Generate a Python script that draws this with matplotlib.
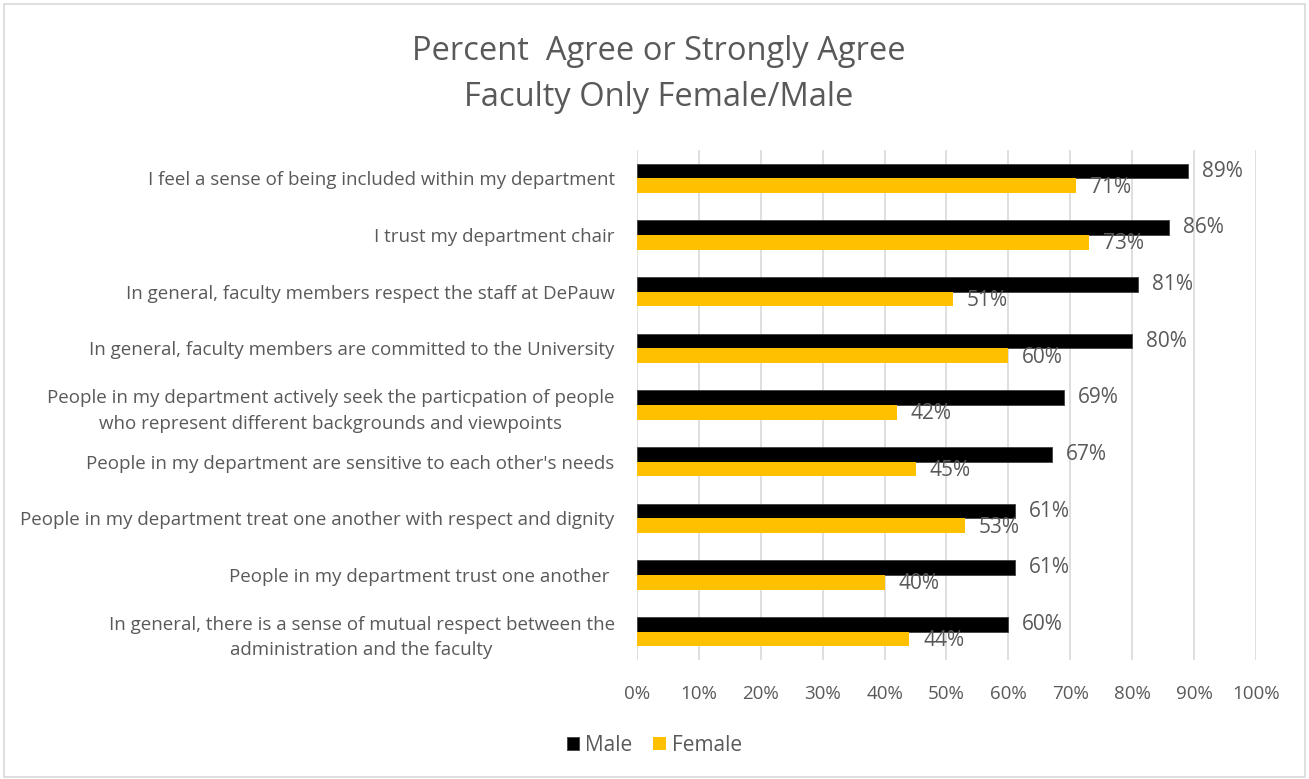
import numpy as np
import matplotlib
matplotlib.use("Agg")
import matplotlib.pyplot as plt
from matplotlib.patches import Rectangle

plt.rcParams["font.family"] = ["Open Sans", "DejaVu Sans"]

# categories listed top to bottom as in the chart
categories = [
    "I feel a sense of being included within my department",
    "I trust my department chair",
    "In general, faculty members respect the staff at DePauw",
    "In general, faculty members are committed to the University",
    "People in my department actively seek the particpation of people\nwho represent different backgrounds and viewpoints",
    "People in my department are sensitive to each other's needs",
    "People in my department treat one another with respect and dignity",
    "People in my department trust one another ",
    "In general, there is a sense of mutual respect between the\nadministration and the faculty",
]
male = [89, 86, 81, 80, 69, 67, 61, 61, 60]
female = [71, 73, 51, 60, 42, 45, 53, 40, 44]
xticks = [0, 10, 20, 30, 40, 50, 60, 70, 80, 90, 100]

TEXT = "#595959"
GRID = "#d9d9d9"
BLACK = "#000000"
GOLD = "#FFC000"

fig = plt.figure(figsize=(13.09, 7.79), dpi=100)
ax = fig.add_axes([0.4866, 0.1527, 0.4729, 0.6547])

n = len(categories)
y = np.arange(n)[::-1]
h = 0.26

ax.barh(y + h / 2, male, height=h, color=BLACK, edgecolor="#404040",
        linewidth=0.6, label="Male", zorder=3)
ax.barh(y - h / 2, female, height=h, color=GOLD, label="Female", zorder=3)

for yi, m, f in zip(y, male, female):
    ax.annotate(f"{m}%", (m, yi + h / 2), xytext=(10, 0), textcoords="offset points",
                va="center", ha="left", fontsize=15, color=TEXT)
    ax.annotate(f"{f}%", (f, yi - h / 2), xytext=(10, -1), textcoords="offset points",
                va="center", ha="left", fontsize=15, color=TEXT)

ax.set_xlim(0, 100)
ax.set_ylim(-0.5, n - 0.5)
ax.set_xticks(xticks)
ax.set_xticklabels([f"{t}%" for t in xticks])
ax.set_yticks(y)
ax.set_yticklabels(categories, multialignment="center", linespacing=1.55)
ax.tick_params(axis="x", length=0, labelsize=13.5, labelcolor=TEXT, pad=18)
ax.tick_params(axis="y", length=0, labelsize=13.5, labelcolor=TEXT, pad=16)
ax.grid(axis="x", color=GRID, linewidth=1.2, zorder=0)
for s in ax.spines.values():
    s.set_visible(False)

fig.text(0.503, 0.934, "Percent  Agree or Strongly Agree", ha="center", va="center",
         fontsize=23.5, color=TEXT)
fig.text(0.503, 0.875, "Faculty Only Female/Male", ha="center", va="center",
         fontsize=23.5, color=TEXT)

ax.legend(loc="center", bbox_to_anchor=(0.5, 0.043), bbox_transform=fig.transFigure,
          ncol=2, frameon=False, fontsize=15, labelcolor=TEXT,
          handlelength=0.6, handleheight=0.6, handletextpad=0.3, columnspacing=1.0)

fig.patches.append(Rectangle((0.003, 0.003), 0.994, 0.992, transform=fig.transFigure,
                             fill=False, edgecolor=GRID, linewidth=1.2))

fig.savefig("out.png", dpi=100, facecolor="white")
plt.close(fig)
